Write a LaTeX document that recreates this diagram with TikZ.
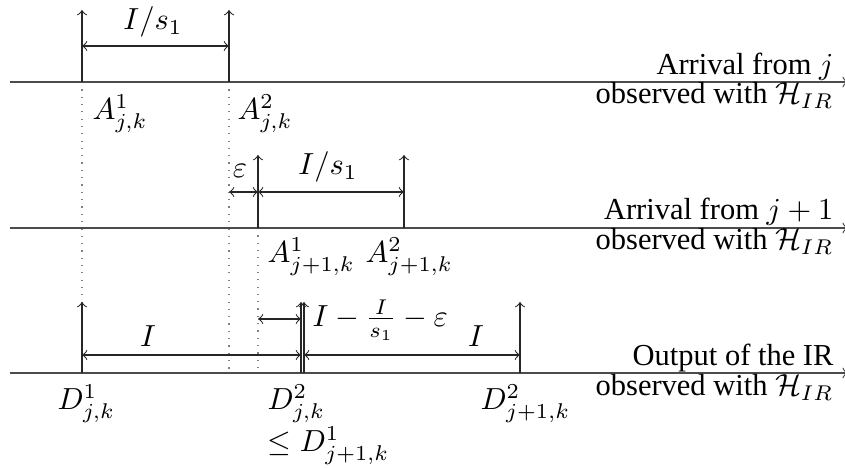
\documentclass[tikz,border=0pt]{standalone}
\usepackage{fontspec}
\setmainfont{Liberation Serif}
\begin{document}
\begin{tikzpicture}[x=0.328pt,y=-0.328pt,
  axis/.style={->,line width=0.4pt,draw=black!70},
  tick/.style={->,line width=0.35pt,draw=black!85},
  dim/.style={<->,line width=0.35pt,draw=black!85},
  guide/.style={dotted,line width=0.4pt,draw=gray},
  lbl/.style={inner sep=0pt,font=\fontsize{10}{12}\selectfont}]
\useasboundingbox (0,0) rectangle (845,468);
% axes
\coordinate (L1) at (10,82);  \coordinate (R1) at (848,82);
\coordinate (L2) at (10,228); \coordinate (R2) at (848,228);
\coordinate (L3) at (10,373); \coordinate (R3) at (848,373);
% tick points
\coordinate (a1) at (82,82);   \coordinate (a1t) at (82,10);
\coordinate (a2) at (229,82);  \coordinate (a2t) at (229,10);
\coordinate (b1) at (258,228); \coordinate (b1t) at (258,155);
\coordinate (b2) at (404,228); \coordinate (b2t) at (404,155);
\coordinate (d1) at (82,373);  \coordinate (d1t) at (82,302);
\coordinate (d2) at (301,373); \coordinate (d2t) at (301,302);
\coordinate (d3) at (304,373); \coordinate (d3t) at (304,302);
\coordinate (d4) at (520,373); \coordinate (d4t) at (520,302);
\coordinate (a2b) at (229,373); \coordinate (b1b) at (258,373);
% dimension points
\coordinate (m1a) at (82,46);  \coordinate (m1b) at (229,46);
\coordinate (m2a) at (229,192);\coordinate (m2b) at (258,192); \coordinate (m2c) at (404,192);
\coordinate (m3a) at (258,319);\coordinate (m3b) at (301,319);
\coordinate (m4a) at (82,355); \coordinate (m4b) at (301,355);
\coordinate (m4c) at (304,355);\coordinate (m4d) at (520,355);

% guides
\draw[guide] (a1) -- (d1t);
\draw[guide] (a2) -- (a2b);
\draw[guide] (b1) -- (b1b);

% axes
\draw[axis] (L1) -- (R1);
\draw[axis] (L2) -- (R2);
\draw[axis] (L3) -- (R3);

% ticks
\draw[tick] (a1) -- (a1t);
\draw[tick] (a2) -- (a2t);
\draw[tick] (b1) -- (b1t);
\draw[tick] (b2) -- (b2t);
\draw[tick] (d1) -- (d1t);
\draw[tick] (d2) -- (d2t);
\draw[tick] (d3) -- (d3t);
\draw[tick] (d4) -- (d4t);

% dimensions
\draw[dim] (m1a) -- (m1b);
\draw[dim] (m2a) -- (m2b);
\draw[dim] (m2b) -- (m2c);
\draw[dim] (m3a) -- (m3b);
\draw[dim] (m4a) -- (m4b);
\draw[dim] (m4c) -- (m4d);

% dimension labels
\node[lbl] (t1) at (153,22) {$I/s_1$};
\node[lbl] (t2) at (240,171) {$\varepsilon$};
\node[lbl] (t3) at (328,167) {$I/s_1$};
\node[lbl,anchor=west] (t4) at (312,320) {$I-\frac{I}{s_1}-\varepsilon$};
\node[lbl] (t5) at (148,336) {$I$};
\node[lbl] (t6) at (476,336) {$I$};

% axis labels (right)
\node[lbl,anchor=base east] (r1a) at (834,75) {Arrival from $j$};
\node[lbl,anchor=base east] (r1b) at (834,104) {observed with $\mathcal{H}_{IR}$};
\node[lbl,anchor=base east] (r2a) at (834,220) {Arrival from $j+1$};
\node[lbl,anchor=base east] (r2b) at (834,250) {observed with $\mathcal{H}_{IR}$};
\node[lbl,anchor=base east] (r3a) at (834,366) {Output of the IR};
\node[lbl,anchor=base east] (r3b) at (834,396) {observed with $\mathcal{H}_{IR}$};

% point labels
\node[lbl,anchor=base west] (A1) at (92,120) {$A^1_{j,k}$};
\node[lbl,anchor=base west] (A2) at (237,120) {$A^2_{j,k}$};
\node[lbl,anchor=base west] (B1) at (267,263) {$A^1_{j+1,k}$};
\node[lbl,anchor=base west] (B2) at (365,263) {$A^2_{j+1,k}$};
\node[lbl,anchor=base west] (D1) at (57,410) {$D^1_{j,k}$};
\node[lbl,anchor=base west] (D2) at (267,410) {$D^2_{j,k}$};
\node[lbl,anchor=base west] (D2b) at (267,452) {$\leq D^1_{j+1,k}$};
\node[lbl,anchor=base west] (D4) at (480,410) {$D^2_{j+1,k}$};
\end{tikzpicture}
\end{document}
